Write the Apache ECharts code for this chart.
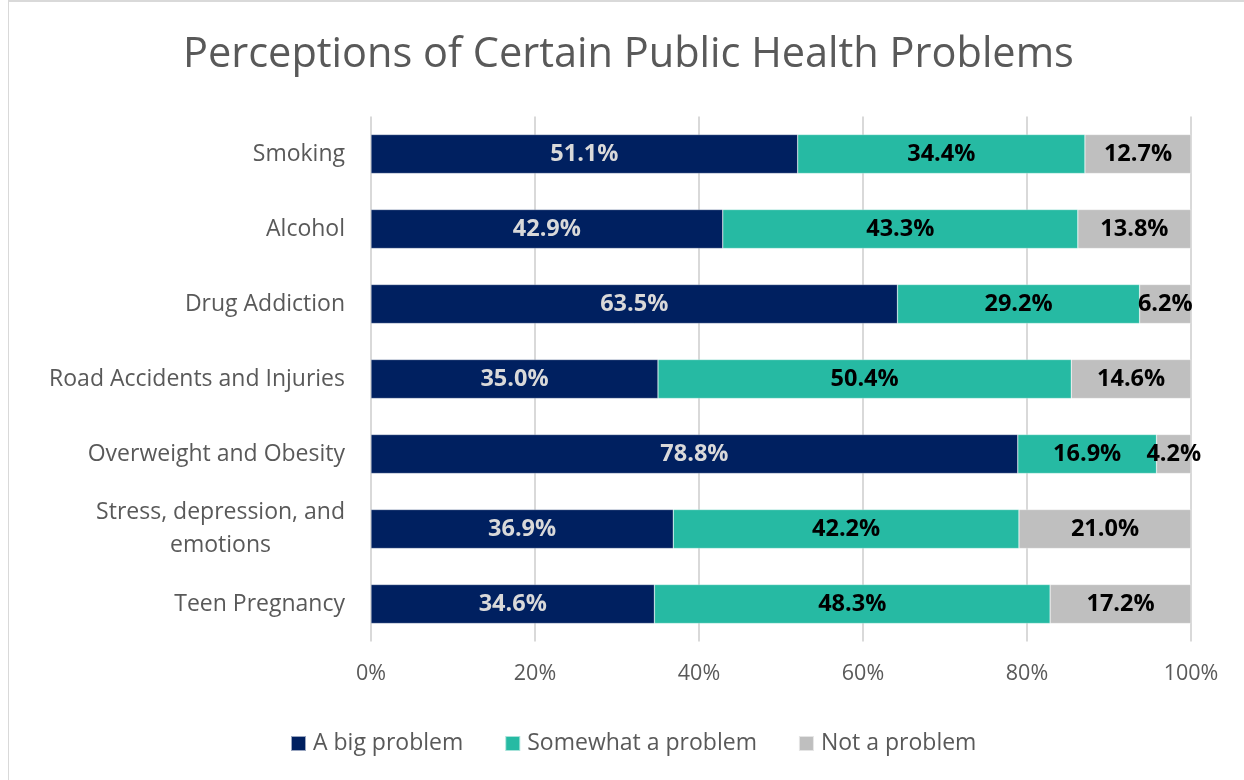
<!DOCTYPE html>
<html><head><meta charset="utf-8">
<script src="https://cdn.jsdelivr.net/npm/echarts@6/dist/echarts.min.js"></script>
<style>html,body{margin:0;padding:0;background:#fff;}#c{width:1244px;height:780px;}
#frame{position:absolute;left:8px;top:0px;width:1240px;height:790px;border:1px solid #d9d9d9;border-top:2px solid #d9d9d9;pointer-events:none;}</style>
</head><body><div id="c"></div><div id="frame"></div>
<script>
const categories = ['Smoking','Alcohol','Drug Addiction','Road Accidents and Injuries','Overweight and Obesity','Stress, depression, and emotions','Teen Pregnancy'];
const bigProblem = [51.1, 42.9, 63.5, 35.0, 78.8, 36.9, 34.6];
const somewhatProblem = [34.4, 43.3, 29.2, 50.4, 16.9, 42.2, 48.3];
const notProblem = [12.7, 13.8, 6.2, 14.6, 4.2, 21.0, 17.2];
const seriesNames = ['A big problem','Somewhat a problem','Not a problem'];
const xTicks = ['0%','20%','40%','60%','80%','100%'];

const raw = [bigProblem, somewhatProblem, notProblem];
const totals = categories.map((_, i) => raw.reduce((s, a) => s + a[i], 0));
const colors = ['#002060', '#26baa3', '#bfbfbf'];
const labelColors = ['#d9d9d9', '#000000', '#000000'];

const chart = echarts.init(document.getElementById('c'));
chart.setOption({
  animation: false,
  title: {
    text: 'Perceptions of Certain Public Health Problems',
    left: 178, top: 29,
    textStyle: { fontFamily: 'Open Sans', fontSize: 41.5, fontWeight: 'normal', color: '#595959' }
  },
  legend: {
    bottom: 20, left: 285, itemWidth: 15, itemHeight: 15, itemGap: 41,
    icon: 'rect',
    textStyle: { fontFamily: 'Open Sans', fontSize: 23, color: '#595959', padding: [0, 0, 0, 2] },
    data: seriesNames
  },
  grid: { left: 371, right: 53, top: 116.5, bottom: 138.5, containLabel: false },
  xAxis: {
    type: 'value', min: 0, max: 100, interval: 20,
    axisLine: { show: false }, axisTick: { show: false },
    splitLine: { lineStyle: { color: '#d9d9d9', width: 2 } },
    axisLabel: {
      margin: 21,
      fontFamily: 'Open Sans', fontSize: 21.5, color: '#595959',
      formatter: v => xTicks[Math.round(v / 20)]
    }
  },
  yAxis: {
    type: 'category', inverse: true, data: categories,
    axisLine: { show: false }, axisTick: { show: false },
    axisLabel: {
      margin: 26,
      fontFamily: 'Open Sans', fontSize: 23, color: '#595959', lineHeight: 33,
      formatter: v => v === 'Stress, depression, and emotions' ? '{a|Stress, depression, and}\n{b|emotions}' : v,
      rich: {
        a: { fontFamily: 'Open Sans', fontSize: 23, color: '#595959', lineHeight: 33 },
        b: { fontFamily: 'Open Sans', fontSize: 23, color: '#595959', lineHeight: 33, align: 'center' }
      }
    }
  },
  series: raw.map((arr, k) => ({
    name: seriesNames[k], type: 'bar', stack: 'total', barWidth: '52%',
    itemStyle: { color: colors[k], borderColor: 'rgba(255,255,255,0.6)', borderWidth: 0.5 },
    label: {
      show: true, position: 'inside',
      fontFamily: 'Open Sans', fontWeight: 'bold', fontSize: 23.5, color: labelColors[k],
      formatter: p => arr[p.dataIndex].toFixed(1) + '%'
    },
    data: arr.map((v, i) => v / totals[i] * 100)
  }))
});
</script></body></html>
